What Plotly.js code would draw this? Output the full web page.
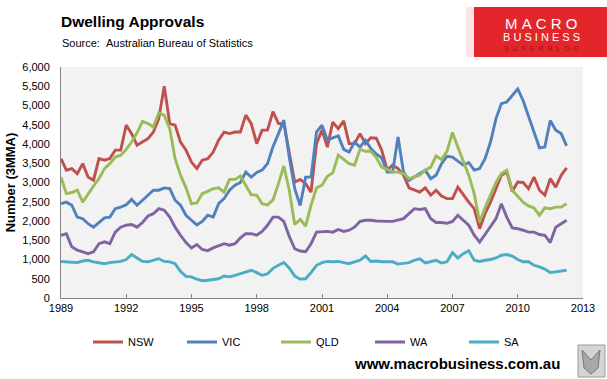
<!DOCTYPE html>
<html><head><meta charset="utf-8">
<script src="https://cdn.plot.ly/plotly-3.0.1.min.js"></script>
<style>html,body{margin:0;padding:0;background:#fff}#chart{width:607px;height:379px}</style>
</head><body><div id="chart"></div>
<script>
// Quarterly sample dates (3-month moving average series)
const dates = [
"1989-01","1989-04","1989-07","1989-10","1990-01","1990-04","1990-07","1990-10",
"1991-01","1991-04","1991-07","1991-10","1992-01","1992-04","1992-07","1992-10",
"1993-01","1993-04","1993-07","1993-10","1994-01","1994-04","1994-07","1994-10",
"1995-01","1995-04","1995-07","1995-10","1996-01","1996-04","1996-07","1996-10",
"1997-01","1997-04","1997-07","1997-10","1998-01","1998-04","1998-07","1998-10",
"1999-01","1999-04","1999-07","1999-10","2000-01","2000-04","2000-07","2000-10",
"2001-01","2001-04","2001-07","2001-10","2002-01","2002-04","2002-07","2002-10",
"2003-01","2003-04","2003-07","2003-10","2004-01","2004-04","2004-07","2004-10",
"2005-01","2005-04","2005-07","2005-10","2006-01","2006-04","2006-07","2006-10",
"2007-01","2007-04","2007-07","2007-10","2008-01","2008-04","2008-07","2008-10",
"2009-01","2009-04","2009-07","2009-10","2010-01","2010-04","2010-07","2010-10",
"2011-01","2011-04","2011-07","2011-10","2012-01","2012-04"];

const nsw = [3620,3320,3360,3230,3490,3140,3060,3620,3580,3620,
3840,3840,4490,4270,3970,4050,4140,4310,4660,5500,
4530,4490,4050,3840,3530,3360,3580,3620,3790,4100,
4310,4270,4310,4310,4750,4530,4010,4360,4360,4840,
4530,4530,3750,3010,3080,2970,2750,4010,4360,3920,
4570,4400,4600,4010,4010,4270,4010,4160,4150,3840,
3320,3450,3360,3190,2860,2800,2750,2860,2670,2800,
2650,2580,2580,2880,2670,2490,2320,1800,2190,2490,
2840,3190,3270,2770,3010,3000,2840,3140,2800,2670,
3100,2880,3190,3380];

const vic = [2450,2490,2410,2100,2060,1930,1840,1970,2080,2100,
2320,2360,2420,2560,2410,2540,2680,2800,2800,2860,
2840,2540,2410,2150,2020,1900,1990,2150,2100,2450,
2580,2800,2930,3000,3270,3140,3260,3320,3490,3930,
4270,4620,3660,2840,2400,3140,3140,4310,4490,4100,
4160,4210,3860,3790,4050,3920,4100,3880,3740,3640,
3270,3270,4180,3270,3060,3140,3230,3320,3100,3190,
3490,3680,3660,3550,3450,3520,3320,3360,3620,4050,
4660,5050,5090,5260,5430,5130,4750,4310,3900,3920,
4610,4360,4270,3950];

const qld = [3140,2710,2740,2800,2490,2710,2910,3100,3360,3490,
3660,3710,3860,4050,4290,4590,4530,4440,4810,4750,
4400,3620,3190,2860,2450,2470,2710,2770,2840,2860,
2750,3080,3080,3170,2910,2680,2670,2450,2420,2550,
2970,3430,2800,1910,2040,1870,2410,2860,2930,3160,
3250,3710,3600,3490,3450,3860,3810,3810,3650,3400,
3340,3270,3270,3230,3100,3140,3190,3320,3400,3690,
3600,3810,4300,3920,3530,3190,2710,1980,2340,2670,
3000,3230,3320,2800,2650,2490,2390,2340,2150,2340,
2320,2360,2360,2450];

const wa = [1630,1670,1330,1240,1200,1150,1200,1410,1460,1410,
1710,1840,1890,1910,1840,1960,2130,2190,2320,2280,
2100,1840,1630,1440,1300,1390,1260,1230,1300,1350,
1410,1370,1410,1560,1670,1670,1630,1730,1890,2100,
2100,1990,1600,1280,1220,1200,1410,1710,1730,1730,
1710,1780,1730,1760,1840,1990,2020,2020,2000,1990,
1990,1990,2030,2060,2190,2320,2300,2320,2060,1960,
1960,1940,1990,2150,2020,1890,1630,1450,1650,1870,
2060,2450,2100,1820,1800,1760,1710,1710,1650,1630,
1440,1840,1930,2020];

const sa = [950,940,940,920,960,980,940,910,890,920,
940,950,1000,1130,1040,950,940,980,1020,950,
940,890,690,560,550,490,450,460,490,500,
570,550,590,630,660,720,660,590,630,770,
850,920,780,570,490,500,660,850,920,950,
940,950,920,890,940,980,1090,950,960,940,
940,940,880,910,920,980,1020,910,940,980,
910,940,1180,1040,1150,1230,980,950,980,1000,
1040,1110,1130,1090,1000,940,940,850,810,750,
660,680,690,720];

const seriesNames = ["NSW","VIC","QLD","WA","SA"];
const seriesColors = ["#C0504D","#4F81BD","#9BBB59","#8064A2","#4BACC6"];
const yearTicks = ["1989","1992","1995","1998","2001","2004","2007","2010","2013"];

const values = [nsw, vic, qld, wa, sa];
const L = 61, R = 583, T = 67, B = 298;
function px(x){ return (x - L) / (R - L); }
function py(y){ return (B - y) / (B - T); }

const traces = seriesNames.map((n, i) => ({
  x: dates, y: values[i], type: "scatter", mode: "lines", name: n,
  line: {color: seriesColors[i], width: 2.9}
}));

const NB = "\u00a0";
const layout = {
  width: 607, height: 379,
  margin: {l: L, r: 607 - R, t: T, b: 379 - B},
  paper_bgcolor: "#ffffff", plot_bgcolor: "#F2F2F2",
  font: {family: "Liberation Sans, Arial, sans-serif", size: 11, color: "#000"},
  title: {text: "Dwelling Approvals", xref: "container", yref: "container",
    x: 61/607, xanchor: "left", y: 1 - 22/379, yanchor: "middle",
    font: {size: 15.5, weight: "bold", color: "#000"}},
  showlegend: true,
  legend: {orientation: "h", x: px(88), xanchor: "left", y: py(342), yanchor: "middle",
    font: {size: 11}, entrywidth: 49, entrywidthmode: "pixels", bgcolor: "rgba(0,0,0,0)",
    traceorder: "normal"},
  xaxis: {type: "date", range: ["1989-01-01", "2013-01-01"], tickmode: "array",
    tickvals: yearTicks.map(y => y + "-01-01"), ticktext: yearTicks,
    ticks: "inside", ticklen: 4, tickcolor: "#868686", showline: true, linecolor: "#868686",
    linewidth: 1, showgrid: false, zeroline: false, tickfont: {size: 11}},
  yaxis: {range: [0, 6000], tick0: 0, dtick: 500, tickformat: ",", showline: true,
    linecolor: "#868686", linewidth: 1, showgrid: false, zeroline: false, ticks: "",
    ticklabelstandoff: 8, tickfont: {size: 11},
    title: {text: NB.repeat(6) + "Number (3MMA)", font: {size: 13, weight: "bold"}, standoff: 3}},
  shapes: [
    {type: "rect", xref: "paper", yref: "paper", x0: px(466), x1: px(476), y0: py(57), y1: py(7),
      fillcolor: "#fbe4e4", line: {width: 0}, layer: "above"},
    {type: "rect", xref: "paper", yref: "paper", x0: px(474), x1: px(607), y0: py(57), y1: py(7),
      fillcolor: "#E3262B", line: {width: 0}, layer: "above"},
    {type: "rect", xref: "paper", yref: "paper", x0: px(578), x1: px(605), y0: py(377), y1: py(345),
      fillcolor: "#d4d4d4", line: {color: "#9a9a9a", width: 1}, layer: "above"},
    {type: "path", xref: "paper", yref: "paper", layer: "above",
      path: "M " + px(582) + "," + py(350) + " L " + px(591) + "," + py(360) + " L " + px(600) + "," + py(350) +
            " L " + px(598) + "," + py(368) + " L " + px(591) + "," + py(374) + " L " + px(584) + "," + py(368) + " Z",
      fillcolor: "#a8a8a8", line: {color: "#777", width: 1}}
  ],
  annotations: [
    {text: "Source:" + NB + NB + "Australian Bureau of Statistics", xref: "paper", yref: "paper",
      x: px(60), y: py(43), xanchor: "left", yanchor: "middle", showarrow: false,
      font: {size: 11, color: "#000"}},
    {text: ["M","A","C","R","O"].join(NB), xref: "paper", yref: "paper", x: px(541), y: py(23),
      xanchor: "center", yanchor: "middle", showarrow: false, font: {size: 15, color: "#ffffff"}},
    {text: ["B","U","S","I","N","E","S","S"].join(NB), xref: "paper", yref: "paper", x: px(541), y: py(37),
      xanchor: "center", yanchor: "middle", showarrow: false, font: {size: 11, color: "#ffffff"}},
    {text: ["S","U","P","E","R","B","L","O","G"].join(NB + NB), xref: "paper", yref: "paper", x: px(541), y: py(49),
      xanchor: "center", yanchor: "middle", showarrow: false, font: {size: 7, color: "#a51119"}},
    {text: "www.macrobusiness.com.au", xref: "paper", yref: "paper", x: px(562), y: py(364),
      xanchor: "right", yanchor: "middle", showarrow: false, font: {size: 15, weight: "bold", color: "#000"}}
  ]
};

Plotly.newPlot("chart", traces, layout, {staticPlot: true, displayModeBar: false});
</script>
</body></html>
